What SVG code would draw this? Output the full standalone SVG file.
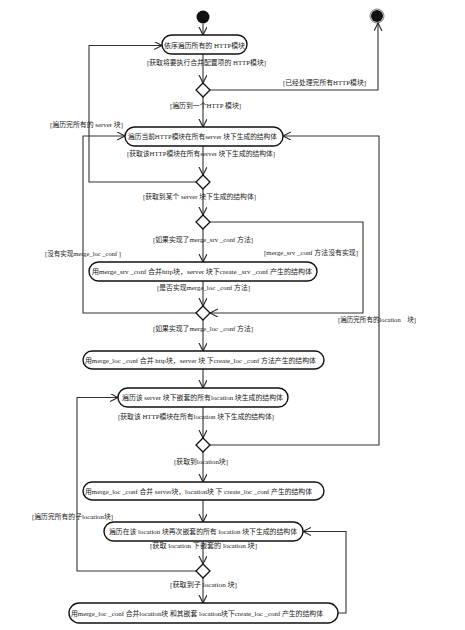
<svg xmlns="http://www.w3.org/2000/svg" width="465" height="630" viewBox="0 0 465 630">
<defs>
<marker id="arr" markerWidth="10" markerHeight="10" refX="8" refY="4" orient="auto" markerUnits="userSpaceOnUse">
<path d="M0,0 L8,4 L0,8" fill="none" stroke="#222" stroke-width="1.1"/>
</marker>
<style>
.n rect{fill:#fff;stroke:#111;stroke-width:1.4}
.n text,.lb{font-family:"Liberation Serif","Noto Sans CJK SC",serif;font-size:7px;fill:#222}
.n text{text-anchor:start}
.lb{text-anchor:start}
.c{fill:none;stroke:#333;stroke-width:1.1}
.d{fill:#fff;stroke:#111;stroke-width:1.3}
</style>
</defs>
<rect width="465" height="630" fill="#fff"/>

<g id="start"><circle cx="203" cy="17" r="6.5" fill="#111"/></g>
<g id="end"><circle cx="377" cy="16" r="7" fill="#fff" stroke="#555" stroke-width="0.8"/><circle cx="377" cy="16" r="6" fill="#111"/></g>

<g id="connectors">
<path class="c" d="M203,23.5 V35" marker-end="url(#arr)"/>
<path class="c" d="M203,54 V83" marker-end="url(#arr)"/>
<path class="c" d="M210,90 H378 V23" marker-end="url(#arr)"/>
<path class="c" d="M203,97 V127" marker-end="url(#arr)"/>
<path class="c" d="M203,146 V175" marker-end="url(#arr)"/>
<path class="c" d="M196,182 H89 V45.5 H162" marker-end="url(#arr)"/>
<path class="c" d="M203,189 V215" marker-end="url(#arr)"/>
<path class="c" d="M203,229 V262" marker-end="url(#arr)"/>
<path class="c" d="M210,222 H363 V313 H210" marker-end="url(#arr)"/>
<path class="c" d="M203,281 V306" marker-end="url(#arr)"/>
<path class="c" d="M196,313 H83 V136 H125" marker-end="url(#arr)"/>
<path class="c" d="M203,320 V351" marker-end="url(#arr)"/>
<path class="c" d="M203,369 V388" marker-end="url(#arr)"/>
<path class="c" d="M203,407 V438" marker-end="url(#arr)"/>
<path class="c" d="M210,445 H379 V136 H283" marker-end="url(#arr)"/>
<path class="c" d="M203,452 V482" marker-end="url(#arr)"/>
<path class="c" d="M203,500 V522" marker-end="url(#arr)"/>
<path class="c" d="M203,541 V564" marker-end="url(#arr)"/>
<path class="c" d="M196,571 H77 V397.5 H118" marker-end="url(#arr)"/>
<path class="c" d="M203,578 V603" marker-end="url(#arr)"/>
<path class="c" d="M338,613 H346 V531.5 H303" marker-end="url(#arr)"/>
</g>

<g id="d1"><path class="d" d="M203,83 L210,90 L203,97 L196,90 Z"/></g>
<g id="d2"><path class="d" d="M203,175 L210,182 L203,189 L196,182 Z"/></g>
<g id="d3"><path class="d" d="M203,215 L210,222 L203,229 L196,222 Z"/></g>
<g id="d4"><path class="d" d="M203,306 L210,313 L203,320 L196,313 Z"/></g>
<g id="d5"><path class="d" d="M203,438 L210,445 L203,452 L196,445 Z"/></g>
<g id="d6"><path class="d" d="M203,564 L210,571 L203,578 L196,571 Z"/></g>

<g id="n1" class="n"><rect x="162" y="35" width="85" height="19" rx="9.5"/><text x="164" y="47.5" textLength="81" lengthAdjust="spacingAndGlyphs">依序遍历所有的 HTTP模块</text></g>
<g id="n2" class="n"><rect x="125" y="127" width="158" height="19" rx="9.5"/><text x="128" y="139" textLength="149" lengthAdjust="spacingAndGlyphs">遍历当前HTTP模块在所有server 块下生成的结构体</text></g>
<g id="n3" class="n"><rect x="89" y="262" width="228" height="19" rx="9.5"/><text x="92" y="274" textLength="220" lengthAdjust="spacingAndGlyphs">用merge_srv _conf 合并http块，server 块下create _srv _conf 产生的结构体</text></g>
<g id="n4" class="n"><rect x="83" y="351" width="241" height="18" rx="9"/><text x="85" y="362.5" textLength="231" lengthAdjust="spacingAndGlyphs">用merge_loc _conf 合并 http块，server 块 下create_loc _conf 方法产生的结构体</text></g>
<g id="n5" class="n"><rect x="118" y="388" width="170" height="19" rx="9.5"/><text x="122" y="400" textLength="161" lengthAdjust="spacingAndGlyphs">遍历该 server 块下嵌套的所有location 块生成的结构体</text></g>
<g id="n6" class="n"><rect x="83" y="482" width="241" height="18" rx="9"/><text x="85" y="493.5" textLength="227" lengthAdjust="spacingAndGlyphs">用merge_loc _conf 合并 server块，location块 下 create_loc _conf 产生的结构体</text></g>
<g id="n7" class="n"><rect x="104" y="522" width="199" height="19" rx="9.5"/><text x="109" y="534" textLength="188" lengthAdjust="spacingAndGlyphs">遍历在该 location 块再次嵌套的所有 location 块下生成的结构体</text></g>
<g id="n8" class="n"><rect x="69" y="603" width="269" height="20" rx="10"/><text x="71" y="615.5" textLength="252" lengthAdjust="spacingAndGlyphs">用merge_loc _conf 合并location块 和其嵌套 location块下create_loc _conf 产生的结构体</text></g>

<g id="labels">
<text class="lb" x="147" y="64.5" textLength="119" lengthAdjust="spacingAndGlyphs">[获取将要执行合并配置项的 HTTP模块]</text>
<text class="lb" x="283" y="84.5" textLength="83" lengthAdjust="spacingAndGlyphs">[已经处理完所有HTTP模块]</text>
<text class="lb" x="170" y="107.5" textLength="71" lengthAdjust="spacingAndGlyphs">[遍历到一个HTTP 模块]</text>
<text class="lb" x="50" y="126.5" textLength="73" lengthAdjust="spacingAndGlyphs">[遍历完所有的 server 块]</text>
<text class="lb" x="127" y="155.5" textLength="148" lengthAdjust="spacingAndGlyphs">[获取该HTTP模块在所有server 块下生成的结构体]</text>
<text class="lb" x="143" y="198.5" textLength="113" lengthAdjust="spacingAndGlyphs">[获取到某个 server 块下生成的结构体]</text>
<text class="lb" x="153" y="241.5" textLength="100" lengthAdjust="spacingAndGlyphs">[如果实现了merge_srv _conf 方法]</text>
<text class="lb" x="45" y="255.5" textLength="76" lengthAdjust="spacingAndGlyphs">[没有实现merge_loc _conf ]</text>
<text class="lb" x="264" y="254.5" textLength="94" lengthAdjust="spacingAndGlyphs">[merge_srv _conf 方法没有实现]</text>
<text class="lb" x="157" y="289.5" textLength="93" lengthAdjust="spacingAndGlyphs">[是否实现merge_loc _conf 方法]</text>
<text class="lb" x="153" y="330.5" textLength="100" lengthAdjust="spacingAndGlyphs">[如果实现了merge_loc _conf 方法]</text>
<text class="lb" x="338" y="321.5" textLength="78" lengthAdjust="spacingAndGlyphs">[遍历完所有的location　块]</text>
<text class="lb" x="118" y="418.5" textLength="156" lengthAdjust="spacingAndGlyphs">[获取该 HTTP模块在所有location 块下生成的结构体]</text>
<text class="lb" x="174" y="463.5" textLength="54" lengthAdjust="spacingAndGlyphs">[获取到location块]</text>
<text class="lb" x="32" y="518.5" textLength="81" lengthAdjust="spacingAndGlyphs">[遍历完所有的子location块]</text>
<text class="lb" x="150" y="547.5" textLength="107" lengthAdjust="spacingAndGlyphs">[获取 location 下嵌套的 location 块]</text>
<text class="lb" x="170" y="586.5" textLength="67" lengthAdjust="spacingAndGlyphs">[获取到子 location 块]</text>
</g>
</svg>
